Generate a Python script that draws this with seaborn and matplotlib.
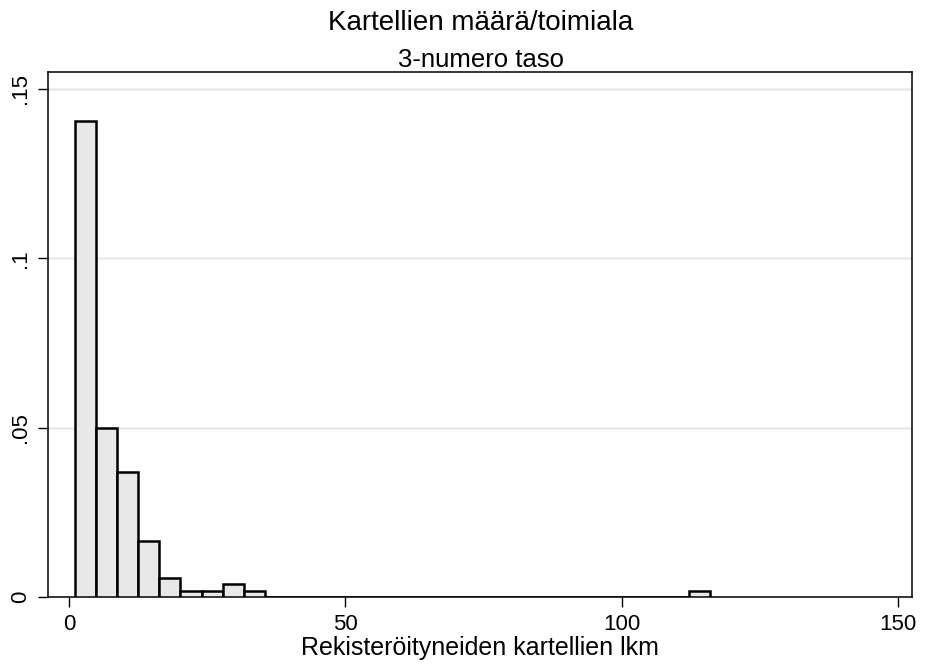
import numpy as np
import pandas as pd
import matplotlib
matplotlib.use("Agg")
import matplotlib.pyplot as plt
import seaborn as sns

# ---- data ----
title = "Kartellien määrä/toimiala"
subtitle = "3-numero taso"
x_label = "Rekisteröityneiden kartellien lkm"
x_min, x_max, n_bins = 1, 116, 30
bin_counts = [76, 27, 20, 9, 3, 1, 1, 2, 1, 0,
              0, 0, 0, 0, 0, 0, 0, 0, 0, 0,
              0, 0, 0, 0, 0, 0, 0, 0, 0, 1]
x_ticks = [0, 50, 100, 150]
x_tick_labels = ["0", "50", "100", "150"]
y_ticks = [0, 0.05, 0.10, 0.15]
y_tick_labels = ["0", ".05", ".1", ".15"]

edges = np.linspace(x_min, x_max, n_bins + 1)
centers = (edges[:-1] + edges[1:]) / 2
df = pd.DataFrame({"value": centers, "count": bin_counts})

sns.set_style("white")
plt.rcParams["font.family"] = ["Liberation Sans", "DejaVu Sans"]
plt.rcParams["text.color"] = "black"
plt.rcParams["axes.labelcolor"] = "black"
plt.rcParams["xtick.color"] = "black"
plt.rcParams["ytick.color"] = "black"

fig = plt.figure(figsize=(9.26, 6.67), dpi=100)
ax = fig.add_axes([48.3 / 926, 1 - 597 / 667, (912.3 - 48.3) / 926, (597 - 72.3) / 667])

sns.histplot(data=df, x="value", weights="count", bins=n_bins, binrange=(x_min, x_max),
             stat="density", color="#E8E8E8", edgecolor="black", linewidth=1.8,
             alpha=1, ax=ax, zorder=3)

ax.set_xlim(-3.75, 152.6)
ax.set_ylim(0, 0.1549)
ax.set_xticks(x_ticks)
ax.set_xticklabels(x_tick_labels, fontsize=16)
ax.set_yticks(y_ticks)
ax.set_yticklabels(y_tick_labels, fontsize=16, rotation=90, va="center")
ax.tick_params(axis="both", direction="out", length=7.2, width=1, color="black",
               labelcolor="black", bottom=True, left=True, pad=5)
ax.yaxis.grid(True, color="#EAEAEA", linewidth=1.8)
ax.xaxis.grid(False)
ax.set_axisbelow(True)
for s in ax.spines.values():
    s.set_visible(True)
    s.set_color("black")
    s.set_linewidth(1.1)

ax.set_ylabel("")
ax.set_xlabel(x_label, fontsize=18, labelpad=1, color="black")

fig.text(481 / 926, 1 - 30 / 667, title, ha="center", va="baseline", fontsize=20, color="black")
fig.text(481 / 926, 1 - 66.7 / 667, subtitle, ha="center", va="baseline", fontsize=18.5, color="black")

fig.savefig("out.png", dpi=100, facecolor="white")
